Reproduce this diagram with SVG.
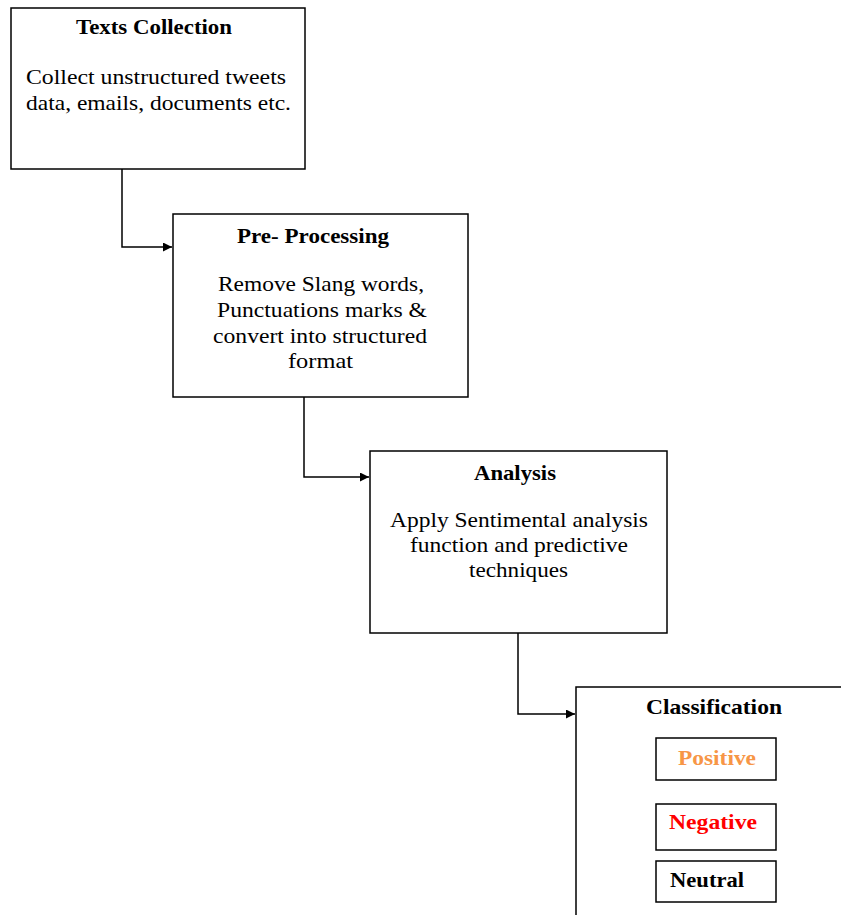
<svg xmlns="http://www.w3.org/2000/svg" width="841" height="915" viewBox="0 0 841 915">
<style>
.box{fill:#fff;stroke:#000;stroke-width:1.5}
.sub{fill:#fff;stroke:#000;stroke-width:1.5}
.t{font-family:"Liberation Serif","Times New Roman",serif;font-size:21px;font-weight:bold;text-anchor:middle;fill:#000}
.b{font-family:"Liberation Serif","Times New Roman",serif;font-size:21px;text-anchor:middle;fill:#000}
.c{font-family:"Liberation Serif","Times New Roman",serif;font-size:21px;font-weight:bold;fill:#000}
.conn{fill:none;stroke:#000;stroke-width:1.5}
</style>
<defs>
<marker id="arr" viewBox="0 0 10 10" refX="10" refY="5" markerWidth="10" markerHeight="9" markerUnits="userSpaceOnUse" orient="auto">
<path d="M0,0 L10,5 L0,10 z" fill="#000"/>
</marker>
</defs>
<rect width="841" height="915" fill="#fff"/>
<g id="connectors">
<path class="conn" d="M122,169 V247 H172" marker-end="url(#arr)"/>
<path class="conn" d="M304,397 V477 H369" marker-end="url(#arr)"/>
<path class="conn" d="M518,633 V714 H575" marker-end="url(#arr)"/>
</g>
<g id="texts-collection">
<rect class="box" x="11" y="8" width="294" height="161"/>
<text class="t" x="154" y="34" textLength="156" lengthAdjust="spacingAndGlyphs">Texts Collection</text>
<text class="b" x="156" y="84" textLength="260" lengthAdjust="spacingAndGlyphs">Collect unstructured tweets</text>
<text class="b" x="158.5" y="110" textLength="265" lengthAdjust="spacingAndGlyphs">data, emails, documents etc.</text>
</g>
<g id="pre-processing">
<rect class="box" x="173" y="214" width="295" height="183"/>
<text class="t" x="313" y="243" textLength="152" lengthAdjust="spacingAndGlyphs">Pre- Processing</text>
<text class="b" x="321" y="291" textLength="206" lengthAdjust="spacingAndGlyphs">Remove Slang words,</text>
<text class="b" x="322" y="317" textLength="210" lengthAdjust="spacingAndGlyphs">Punctuations marks &amp;</text>
<text class="b" x="320" y="343" textLength="214" lengthAdjust="spacingAndGlyphs">convert into structured</text>
<text class="b" x="320.5" y="368" textLength="65" lengthAdjust="spacingAndGlyphs">format</text>
</g>
<g id="analysis">
<rect class="box" x="370" y="451" width="297" height="182"/>
<text class="t" x="515" y="480" textLength="82" lengthAdjust="spacingAndGlyphs">Analysis</text>
<text class="b" x="519" y="527" textLength="258" lengthAdjust="spacingAndGlyphs">Apply Sentimental analysis</text>
<text class="b" x="519" y="552" textLength="218" lengthAdjust="spacingAndGlyphs">function and predictive</text>
<text class="b" x="518.5" y="577" textLength="99" lengthAdjust="spacingAndGlyphs">techniques</text>
</g>
<g id="classification">
<rect class="box" x="576" y="687" width="280" height="240"/>
<text class="t" x="714" y="714" textLength="136" lengthAdjust="spacingAndGlyphs">Classification</text>
</g>
<g id="positive">
<rect class="sub" x="656" y="738" width="120" height="42"/>
<text class="c" x="678" y="765" textLength="78" lengthAdjust="spacingAndGlyphs" style="fill:#F79646">Positive</text>
</g>
<g id="negative">
<rect class="sub" x="656" y="804" width="120" height="46"/>
<text class="c" x="669" y="829" textLength="88" lengthAdjust="spacingAndGlyphs" style="fill:#FF0000">Negative</text>
</g>
<g id="neutral">
<rect class="sub" x="656" y="861" width="120" height="41"/>
<text class="c" x="670" y="887" textLength="74" lengthAdjust="spacingAndGlyphs">Neutral</text>
</g>
</svg>
